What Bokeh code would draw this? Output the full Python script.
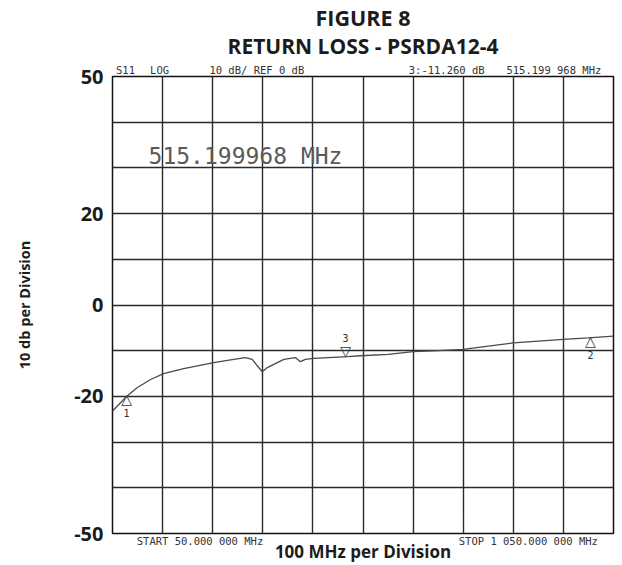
from bokeh.plotting import figure
from bokeh.models import FixedTicker, Label, ColumnDataSource, LinearAxis, Title
from bokeh.core.properties import value
from bokeh.embed import file_html
from bokeh.resources import INLINE

freq_mhz = [50, 66, 78, 99, 126, 152, 192, 252, 292, 315, 329, 339, 349, 359,
            372, 392, 415, 425, 435, 452, 519, 545, 600, 650, 700, 750, 800,
            850, 900, 950, 1000, 1050]
return_loss_db = [-23.2, -21.4, -20.0, -18.1, -16.3, -15.0, -13.9, -12.6,
                  -11.9, -11.5, -11.9, -13.3, -14.6, -13.7, -13.0, -11.9,
                  -11.5, -12.4, -11.9, -11.7, -11.3, -11.1, -10.8, -10.2,
                  -10.0, -9.7, -9.0, -8.3, -7.9, -7.5, -7.2, -6.8]

marker_ids = ["1", "2", "3"]
marker_freq_mhz = [78, 1004, 515.199968]
marker_db = [-20.0, -7.2, -11.26]

y_tick_values = [50, 20, 0, -20, -50]
y_tick_labels = ["50", "20", "0", "-20", "-50"]
x_grid_mhz = [50, 150, 250, 350, 450, 550, 650, 750, 850, 950, 1050]
y_grid_db = [-50, -40, -30, -20, -10, 0, 10, 20, 30, 40, 50]
start_mhz = 50
stop_mhz = 1050
db_min = -50
db_max = 50

title_text = "FIGURE 8"
subtitle_text = "RETURN LOSS - PSRDA12-4"
y_label = "10 db per Division"
x_label = "100 MHz per Division"
readout_text = "515.199968 MHz"
header_texts = ["S11", "LOG", "10 dB/ REF 0 dB", "3:-11.260 dB", "515.199 968 MHz"]
footer_texts = ["START  50.000 000 MHz", "STOP 1 050.000 000 MHz"]

# where the screen annotations sit along the frequency axis (layout only)
header_pos = [76, 144, 338, 717, 931]
footer_pos = [231, 880]

BOLD_FONT = "Open Sans"
MONO = "DejaVu Sans Mono"
INK = "#1c1c1c"
SCREEN_INK = "#333333"

p = figure(width=622, height=565, title=None,
           x_range=(start_mhz, stop_mhz), y_range=(db_min, db_max),
           output_backend="svg", toolbar_location=None,
           min_border_left=112, min_border_right=9,
           min_border_top=76, min_border_bottom=32,
           background_fill_color="white", border_fill_color="white",
           outline_line_color="#111111", outline_line_width=1.5)

# grid
p.xgrid.ticker = FixedTicker(ticks=x_grid_mhz)
p.ygrid.ticker = FixedTicker(ticks=y_grid_db)
for g in (p.xgrid, p.ygrid):
    g.grid_line_color = "#2a2a2a"
    g.grid_line_width = 1.4
    g.grid_line_alpha = 1.0


def bare(axis):
    axis.major_tick_out = 0
    axis.major_tick_in = 0
    axis.minor_tick_out = 0
    axis.minor_tick_in = 0
    axis.axis_line_color = None


# y axis
ya = p.yaxis[0]
bare(ya)
ya.ticker = FixedTicker(ticks=y_tick_values)
ya.major_label_overrides = dict(zip(y_tick_values, y_tick_labels))
ya.major_label_text_font = BOLD_FONT
ya.major_label_text_font_style = "bold"
ya.major_label_text_font_size = "20px"
ya.major_label_text_color = INK
ya.major_label_standoff = 9
ya.axis_label = y_label
ya.axis_label_text_font = BOLD_FONT
ya.axis_label_text_font_style = "bold"
ya.axis_label_text_font_size = "14.5px"
ya.axis_label_text_color = INK
ya.axis_label_standoff = 37

# x axis: START / STOP readouts as its labels, then the axis title
xa = p.xaxis[0]
bare(xa)
xa.ticker = FixedTicker(ticks=footer_pos)
xa.major_label_overrides = dict(zip(footer_pos, footer_texts))
xa.major_label_text_font = MONO
xa.major_label_text_font_size = "10.5px"
xa.major_label_text_color = SCREEN_INK
xa.major_label_standoff = 1
xa.axis_label = x_label
xa.axis_label_text_font = BOLD_FONT
xa.axis_label_text_font_style = "bold"
xa.axis_label_text_font_size = "17px"
xa.axis_label_text_color = INK
xa.axis_label_standoff = -10

# header line of the analyzer screen
hdr = LinearAxis(ticker=FixedTicker(ticks=header_pos))
bare(hdr)
hdr.major_label_overrides = dict(zip(header_pos, header_texts))
hdr.major_label_text_font = MONO
hdr.major_label_text_font_size = "10.5px"
hdr.major_label_text_color = SCREEN_INK
hdr.major_label_standoff = 1
p.add_layout(hdr, "above")

# titles (added after the header, so they sit above it)
p.add_layout(Title(text=subtitle_text, align="center", text_font=BOLD_FONT,
                   text_font_style="bold", text_font_size="21px",
                   text_color=INK, standoff=1), "above")
p.add_layout(Title(text=title_text, align="center", text_font=BOLD_FONT,
                   text_font_style="bold", text_font_size="21.5px",
                   text_color=INK, standoff=-5), "above")

# trace
p.line(freq_mhz, return_loss_db, line_color="#4a4a4a", line_width=1.3)

# markers 1 and 2 (triangles below trace), marker 3 active (above trace)
lo = ColumnDataSource(dict(x=marker_freq_mhz[:2], y=marker_db[:2], t=marker_ids[:2]))
hi = ColumnDataSource(dict(x=marker_freq_mhz[2:], y=marker_db[2:], t=marker_ids[2:]))
p.text(x="x", y="y", text=value("\u25b3"), source=lo, text_align="center",
       text_baseline="top", y_offset=-5, text_font=value("DejaVu Sans"),
       text_font_size="14px", text_color=SCREEN_INK)
p.text(x="x", y="y", text="t", source=lo, text_align="center",
       text_baseline="middle", y_offset=17, text_font=value(MONO),
       text_font_size="10px", text_color=SCREEN_INK)
p.text(x="x", y="y", text=value("\u25bd"), source=hi, text_align="center",
       text_baseline="bottom", y_offset=3, text_font=value("DejaVu Sans"),
       text_font_size="14px", text_color=SCREEN_INK)
p.text(x="x", y="y", text="t", source=hi, text_align="center",
       text_baseline="middle", y_offset=-18, text_font=value(MONO),
       text_font_size="10px", text_color=SCREEN_INK)

# big marker readout
p.add_layout(Label(x=122, y=32.7, text=readout_text, text_font=MONO,
                   text_font_size="23px", text_color="#5a5a5a",
                   text_baseline="middle", text_align="left"))

open("out.html", "w").write(file_html(p, INLINE))
